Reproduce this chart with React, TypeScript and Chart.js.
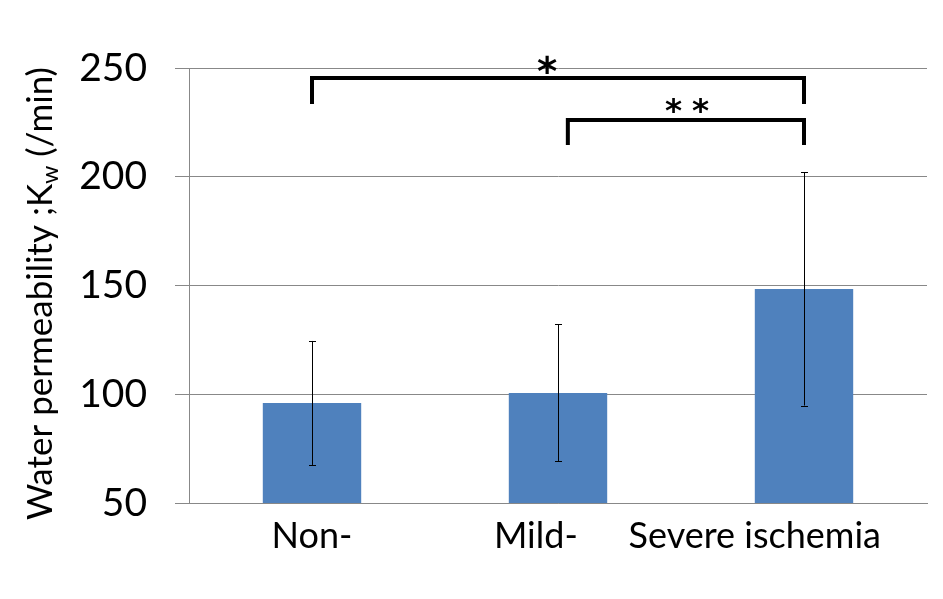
import React, { useEffect, useRef } from "react";
import { Chart, registerables } from "chart.js";

Chart.register(...registerables);

const categories = ["Non-", "Mild-", "Severe ischemia"];
const means = [96, 100.6, 148.4];
const errors = [28.5, 31.5, 53.6];
const yMin = 50;
const yMax = 250;
const yStep = 50;

// significance brackets (category index units / value units)
const bracketFrom = [0, 1.04];
const bracketTo = [2, 2];
const bracketTop = [245.4, 226.1];
const bracketEnd = [233.4, 214.6];
const starText = ["*", "**"];
const starX = [0.955, 1.524];
const starY = [251.6, 232.8];

// styling
const labelShift = [0, -0.09, -0.2];
const starGlyphWidth = [19, 16];
const starPitch = 27;

const FONT = "Lato, 'Open Sans', sans-serif";
const BLUE = "#4F81BD";
const GRID = "#888888";

export default function App() {
  const ref = useRef<HTMLCanvasElement | null>(null);

  useEffect(() => {
    if (!ref.current) return;

    const overlay = {
      id: "overlay",
      afterDatasetsDraw(chart: any) {
        const ctx = chart.ctx;
        const x = chart.scales.x;
        const y = chart.scales.y;
        const meta = chart.getDatasetMeta(0);
        ctx.save();
        // error bars
        ctx.strokeStyle = "#000";
        ctx.lineWidth = 1;
        meta.data.forEach((bar: any, i: number) => {
          const cx = Math.round(bar.x) + 0.5;
          const yt = y.getPixelForValue(means[i] + errors[i]);
          const yb = y.getPixelForValue(means[i] - errors[i]);
          ctx.beginPath();
          ctx.moveTo(cx, yt);
          ctx.lineTo(cx, yb);
          ctx.moveTo(cx - 3.5, Math.round(yt) + 0.5);
          ctx.lineTo(cx + 3.5, Math.round(yt) + 0.5);
          ctx.moveTo(cx - 3.5, Math.round(yb) + 0.5);
          ctx.lineTo(cx + 3.5, Math.round(yb) + 0.5);
          ctx.stroke();
        });
        // brackets
        ctx.lineWidth = 4;
        ctx.lineJoin = "miter";
        ctx.lineCap = "butt";
        ctx.fillStyle = "#000";
        for (let i = 0; i < bracketFrom.length; i++) {
          const x1 = x.getPixelForValue(bracketFrom[i]);
          const x2 = x.getPixelForValue(bracketTo[i]);
          const yt = y.getPixelForValue(bracketTop[i]);
          const ye = y.getPixelForValue(bracketEnd[i]);
          ctx.beginPath();
          ctx.moveTo(x1, ye);
          ctx.lineTo(x1, yt);
          ctx.lineTo(x2, yt);
          ctx.lineTo(x2, ye);
          ctx.stroke();

          // stars: scale font so glyph width matches
          ctx.font = `bold 100px 'DejaVu Sans', sans-serif`;
          const m = ctx.measureText("*");
          const gw = m.actualBoundingBoxLeft + m.actualBoundingBoxRight;
          const size = (100 * starGlyphWidth[i]) / gw;
          ctx.font = `bold ${size}px 'DejaVu Sans', sans-serif`;
          const mm = ctx.measureText("*");
          ctx.textAlign = "left";
          ctx.textBaseline = "alphabetic";
          const n = starText[i].length;
          const cx = x.getPixelForValue(starX[i]);
          const cy = y.getPixelForValue(starY[i]);
          for (let k = 0; k < n; k++) {
            const gx = cx + (k - (n - 1) / 2) * starPitch;
            const left = gx - (mm.actualBoundingBoxRight - mm.actualBoundingBoxLeft) / 2;
            const base = cy + (mm.actualBoundingBoxAscent - mm.actualBoundingBoxDescent) / 2;
            ctx.fillText("*", left, base);
          }
        }
        // category labels
        ctx.fillStyle = "#000";
        ctx.font = `36px ${FONT}`;
        ctx.textAlign = "center";
        ctx.textBaseline = "alphabetic";
        categories.forEach((c, i) => {
          ctx.fillText(c, x.getPixelForValue(i + labelShift[i]), y.bottom + 45);
        });
        // y-axis title with subscript
        const main1 = "Water permeability ;K";
        const sub = "w";
        const main2 = " (/min)";
        ctx.font = `35px ${FONT}`;
        const w1 = ctx.measureText(main1).width;
        const w3 = ctx.measureText(main2).width;
        ctx.font = `23px ${FONT}`;
        const w2 = ctx.measureText(sub).width;
        const total = w1 + w2 + w3;
        const cy = (y.top + y.bottom) / 2 + 8;
        ctx.translate(52, cy);
        ctx.rotate(-Math.PI / 2);
        ctx.textAlign = "left";
        ctx.textBaseline = "alphabetic";
        let px = -total / 2;
        ctx.font = `35px ${FONT}`;
        ctx.fillText(main1, px, 0);
        px += w1;
        ctx.font = `23px ${FONT}`;
        ctx.fillText(sub, px, 6);
        px += w2;
        ctx.font = `35px ${FONT}`;
        ctx.fillText(main2, px, 0);
        ctx.restore();
      },
    };

    const chart = new Chart(ref.current, {
      type: "bar",
      data: {
        labels: categories,
        datasets: [
          {
            data: means,
            backgroundColor: BLUE,
            borderWidth: 0,
            categoryPercentage: 1,
            barPercentage: 0.4,
          },
        ],
      },
      options: {
        animation: false,
        responsive: false,
        maintainAspectRatio: false,
        devicePixelRatio: 1,
        layout: { padding: { left: 0, right: 16, top: 68, bottom: 0 } },
        plugins: {
          legend: { display: false },
          tooltip: { enabled: false },
          title: { display: false },
        },
        scales: {
          x: {
            type: "category",
            grid: { display: false },
            border: { display: true, color: GRID, width: 1 },
            ticks: { display: false },
            afterFit(scale: any) {
              scale.height = 96;
            },
          },
          y: {
            min: yMin,
            max: yMax,
            ticks: {
              stepSize: yStep,
              color: "#000",
              font: { family: FONT, size: 39 },
              padding: 28,
            },
            grid: {
              color: GRID,
              lineWidth: 1,
              drawTicks: true,
              tickLength: 14,
            },
            border: { display: true, color: GRID, width: 1 },
            afterFit(scale: any) {
              scale.width = 189;
            },
          },
        },
      },
      plugins: [overlay],
    });

    return () => chart.destroy();
  }, []);

  return (
    <div style={{ position: "absolute", left: 0, top: 0, width: 943, height: 599, background: "#fff" }}>
      <canvas ref={ref} width={943} height={599} style={{ display: "block" }} />
    </div>
  );
}
